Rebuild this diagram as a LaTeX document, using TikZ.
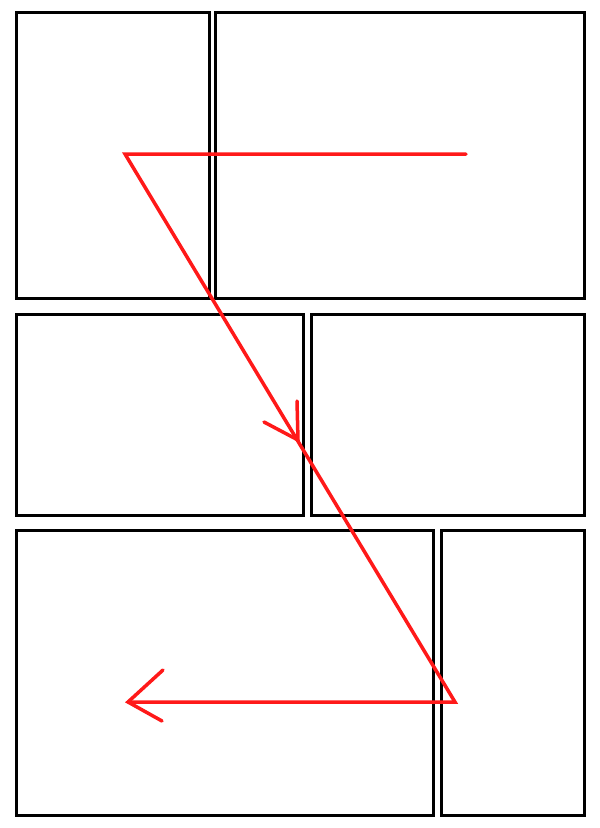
\documentclass[tikz,border=0pt]{standalone}
\usetikzlibrary{positioning}
\begin{document}
\begin{tikzpicture}[x=1pt,y=-1pt]

\tikzset{panel/.style = {shape=rectangle,draw,line width=3pt,inner sep=0pt,outer sep=0pt,anchor=north west}}
\tikzset{flow/.style = {draw=red!90!white,line width=3.5pt,line cap=round,line join=miter}}
\useasboundingbox (0,0) rectangle (600,828);
%panels
\node[panel, minimum width=193pt, minimum height=286pt] (a) at (16,12) {};
\node[panel, minimum width=369pt, minimum height=286pt] (b) at (215,12) {};
\node[panel, minimum width=287pt, minimum height=201pt] (c) at (16,314) {};
\node[panel, minimum width=273pt, minimum height=201pt] (d) at (311,314) {};
\node[panel, minimum width=417pt, minimum height=285pt] (e) at (16,530) {};
\node[panel, minimum width=143pt, minimum height=285pt] (f) at (441,530) {};
%reading path
\coordinate (start) at (466,154);
\coordinate (turn1) at (125,154);
\coordinate (turn2) at (455,702);
\coordinate (stop) at (128,702);
\coordinate (mid) at (298,440);
\draw[flow] (start) -- (turn1) -- (turn2) -- (stop);
%arrow heads
\draw[flow] (264,422) -- (mid) -- (297,401);
\draw[flow] (163,670) -- (stop) -- (162,721);

\end{tikzpicture}
\end{document}
